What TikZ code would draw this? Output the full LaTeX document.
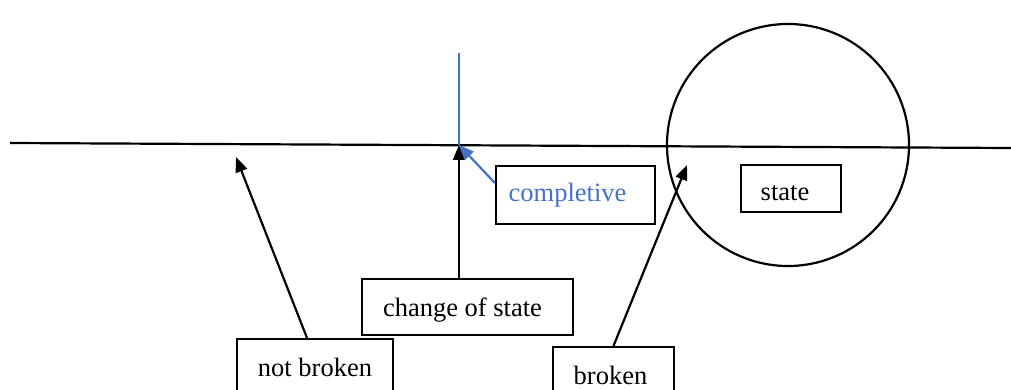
\documentclass[tikz,border=0pt]{standalone}
\usepackage{fontspec}
\setmainfont{Liberation Serif}
\usetikzlibrary{arrows.meta}
\definecolor{wordblue}{HTML}{4472C4}
\newcommand{\shifttxt}[3]{\raisebox{#2}[\height][\depth]{#3}\hspace*{#1}}
\begin{document}
\begin{tikzpicture}[x=1pt,y=-1pt,
  every node/.style={font=\fontsize{26.5}{30}\selectfont},
  box/.style={draw=black, line width=2.2pt, inner sep=0pt, fill=white},
  ln/.style={line width=2.2pt},
  arr/.style={line width=2.2pt, -{Triangle[length=15pt,width=12pt]}},
  barr/.style={line width=2.2pt, draw=wordblue, -{Triangle[length=15pt,width=12pt]}}]
\useasboundingbox (0,0) rectangle (1011,390);
% main horizontal line
\coordinate (L) at (10,143);
\coordinate (R) at (1011,148);
\draw[ln] (L) -- (R);
% blue vertical marker
\coordinate (p0) at (459,145);
\coordinate (btop) at (459,53);
\draw[ln, draw=wordblue] (p0) -- (btop);
% circle
\node[draw, circle, line width=2.2pt, minimum size=242pt, inner sep=0pt] (circ) at (788,145) {};
% boxes
\node[box, minimum width=100pt, minimum height=47pt] (st) at (791,188.5) {\shifttxt{12pt}{-5pt}{state}};
\node[box, minimum width=159pt, minimum height=58pt, text=wordblue] (comp) at (575.5,195) {\shifttxt{16pt}{0pt}{completive}};
\node[box, minimum width=211pt, minimum height=56pt] (cos) at (467.5,307) {\shifttxt{10pt}{-3pt}{change of state}};
\node[box, minimum width=156pt, minimum height=62pt] (nb) at (315,370) {\shifttxt{0pt}{3pt}{not broken}};
\node[box, minimum width=121pt, minimum height=58pt] (br) at (613.5,376) {\shifttxt{6pt}{1pt}{broken}};
% target points
\coordinate (tnb) at (236,157);
\coordinate (tbr) at (687,165);
% connectors
\draw[arr] ([xshift=-8.5pt]cos.north) -- (p0);
\draw[barr] ([yshift=12pt]comp.west) -- (p0);
\draw[arr] ([xshift=-8pt]nb.north) -- (tnb);
\draw[arr] (br.north) -- (tbr);
\end{tikzpicture}
\end{document}
